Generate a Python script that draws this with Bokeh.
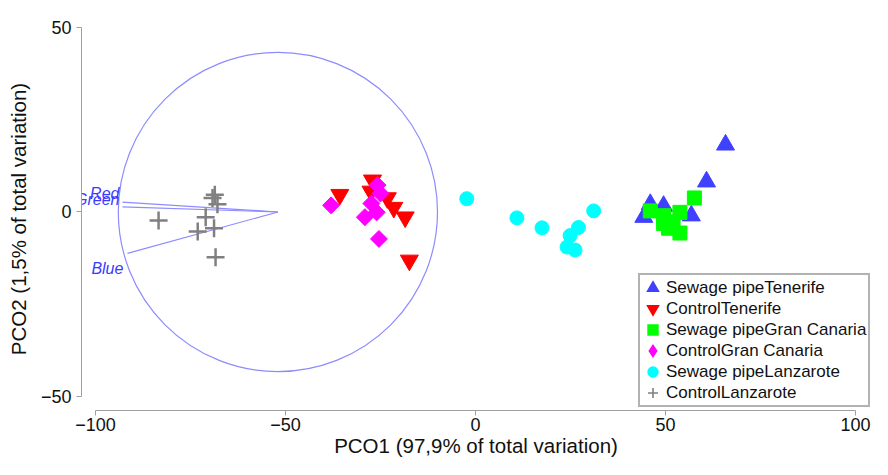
from bokeh.plotting import figure
from bokeh.models import ColumnDataSource, FixedTicker, Legend, LegendItem
from bokeh.core.properties import value
from bokeh.embed import file_html
from bokeh.resources import INLINE
import math

# PCO scores
sewage_tenerife_x = [65.8, 60.8, 46.0, 49.5, 56.8, 44.3]
sewage_tenerife_y = [18.2, 8.2, 2.1, 1.6, -1.0, -1.4]
control_tenerife_x = [-35.7, -27.1, -27.5, -23.2, -21.5, -18.5, -17.4]
control_tenerife_y = [4.7, 8.6, 5.6, 3.8, 1.2, -1.4, -13.1]
sewage_gc_x = [46.0, 57.6, 53.8, 49.5, 49.5, 52.0, 53.8, 50.8]
sewage_gc_y = [0.3, 3.8, -0.1, -1.0, -3.1, -2.7, -5.7, -4.4]
control_gc_x = [-38.0, -25.8, -25.0, -27.4, -26.0, -29.1, -25.4]
control_gc_y = [1.8, 7.3, 5.0, 2.3, -0.1, -1.4, -7.3]
sewage_lz_x = [-2.3, 10.9, 17.5, 31.1, 27.1, 24.9, 24.1, 26.2]
sewage_lz_y = [3.6, -1.6, -4.3, 0.3, -4.2, -6.4, -9.5, -10.3]
control_lz_x = [-83.4, -68.6, -69.2, -67.9, -71.0, -68.8, -73.1, -68.4]
control_lz_y = [-2.3, 4.7, 3.8, 2.1, -1.4, -4.4, -5.3, -12.3]

# vector overlay (correlation circle)
circle_x, circle_y, circle_r = -52.0, 0.0, 42.0
vector_names = ["Red", "Green", "Blue"]
vector_end_x = [-92.9, -92.9, -91.6]
vector_end_y = [2.7, 1.4, -11.2]

x_ticks = [-100, -50, 0, 50, 100]
y_ticks = [-50, 0, 50]

FONT = "Liberation Sans"
VEC = "#8c8cff"

p = figure(width=872, height=459, x_range=(-103.68, 103.95), y_range=(-53.8, 50),
           output_backend="svg", toolbar_location=None, tools="",
           min_border_left=81, min_border_right=2, min_border_top=27, min_border_bottom=46)
p.grid.visible = False
p.outline_line_color = None

# circle + vectors
p.circle([circle_x], [circle_y], radius=circle_r, fill_color=None,
         line_color=VEC, line_width=1.2)
p.segment(x0=[circle_x] * len(vector_end_x), y0=[circle_y] * len(vector_end_y),
          x1=vector_end_x, y1=vector_end_y, line_color=VEC, line_width=1.2)
lab = ColumnDataSource(dict(x=vector_end_x, y=vector_end_y, t=vector_names,
                            xo=[-3, -3, -4], yo=[-9, -7, 15]))
p.text("x", "y", text="t", source=lab, x_offset="xo", y_offset="yo",
       text_align="right", text_baseline="alphabetic", text_color="#3a3aff",
       text_font=value(FONT), text_font_size="16px", text_font_style="italic")

series = [
    ("Sewage pipeTenerife", sewage_tenerife_x, sewage_tenerife_y, "#4040ff"),
    ("ControlTenerife", control_tenerife_x, control_tenerife_y, "#ff0000"),
    ("Sewage pipeGran Canaria", sewage_gc_x, sewage_gc_y, "#00ff00"),
    ("ControlGran Canaria", control_gc_x, control_gc_y, "#ff00ff"),
    ("Sewage pipeLanzarote", sewage_lz_x, sewage_lz_y, "#00ffff"),
    ("ControlLanzarote", control_lz_x, control_lz_y, "#808080"),
]
plot_style = [
    dict(marker="triangle", size=18),
    dict(marker="inverted_triangle", size=18),
    dict(marker="square", size=14),
    dict(marker="square", size=12, angle=math.pi / 4),
    dict(marker="circle", size=14),
    dict(marker="cross", size=18, line_width=2.5),
]
# legend markers are drawn at a fixed scale, so thicker outlines enlarge them;
# these tiny copies sit underneath the real markers and only serve the legend
legend_style = [
    dict(marker="triangle", line_width=3),
    dict(marker="inverted_triangle", line_width=3),
    dict(marker="square", line_width=3),
    dict(marker="diamond", line_width=3),
    dict(marker="circle", line_width=3),
    dict(marker="cross", line_width=1.6, line_cap="square"),
]

items = []
for (name, xs, ys, col), ls in zip(series, legend_style):
    lr = p.scatter(xs, ys, color=col, size=1, line_join="miter", **ls)
    items.append(LegendItem(label=name, renderers=[lr]))
for (name, xs, ys, col), ps in zip(series, plot_style):
    p.scatter(xs, ys, color=col, **ps)

legend = Legend(items=items)
legend.location = (557, 3)
legend.label_text_font = FONT
legend.label_text_font_size = "17px"
legend.label_text_color = "#111111"
legend.glyph_width = 21
legend.glyph_height = 21
legend.label_height = 21
legend.label_standoff = 3
legend.spacing = 0
legend.padding = 2
legend.margin = 0
legend.border_line_color = "#666666"
legend.border_line_width = 2
legend.background_fill_alpha = 1
p.add_layout(legend)

# axes
for ax, ticks, bounds in ((p.xaxis, x_ticks, (-100, 100)), (p.yaxis, y_ticks, (-50, 50))):
    ax.ticker = FixedTicker(ticks=ticks)
    ax.bounds = bounds
    ax.minor_tick_line_color = None
    ax.major_tick_in = 0
    ax.major_tick_out = 5
    ax.axis_line_color = "#a0a0a0"
    ax.major_tick_line_color = "#a0a0a0"
    ax.major_label_text_font = FONT
    ax.major_label_text_font_size = "18px"
    ax.major_label_text_color = "#111111"
    ax.axis_label_text_font = FONT
    ax.axis_label_text_font_size = "20.5px"
    ax.axis_label_text_font_style = "normal"
    ax.axis_label_text_color = "#111111"
p.xaxis.axis_label = "PCO1 (97,9% of total variation)"
p.yaxis.axis_label = "PCO2 (1,5% of total variation)"
p.xaxis.major_label_standoff = 2
p.xaxis.axis_label_standoff = 0
p.yaxis.major_label_standoff = 5
p.yaxis.axis_label_standoff = 8

open("out.html", "w").write(file_html(p, INLINE))
